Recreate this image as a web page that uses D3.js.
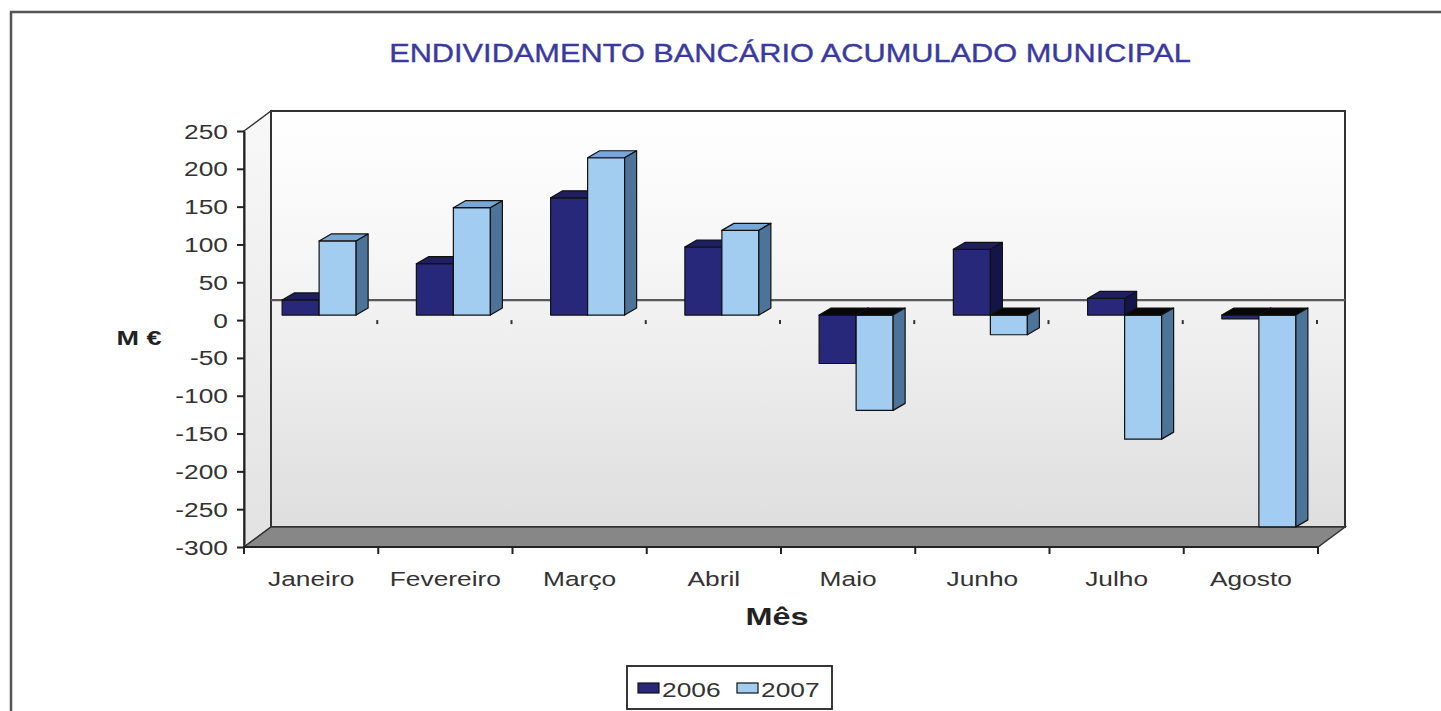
<!DOCTYPE html>
<html><head><meta charset="utf-8">
<script src="https://cdn.jsdelivr.net/npm/d3@7"></script>
<style>
body{margin:0;background:#fff}
svg{display:block;font-family:"Liberation Sans",Arial,Helvetica,sans-serif}
</style>
</head><body>
<script>
// ---------- data ----------
const categories = ["Janeiro","Fevereiro","Março","Abril","Maio","Junho","Julho","Agosto"];
const seriesNames = ["2006","2007"];
const values2006 = [20, 68, 155, 90, -64, 87, 22, -5];
const values2007 = [98, 142, 208, 112, -126, -26, -164, -280];
const yTickValues = [250,200,150,100,50,0,-50,-100,-150,-200,-250,-300];
const titleText = "ENDIVIDAMENTO BANCÁRIO ACUMULADO MUNICIPAL";
const xAxisTitle = "Mês";
const yAxisTitle = "M €";

// ---------- layout ----------
const W = 1441, H = 711;
const X0 = 244, X1 = 1318, YT = 131, YB = 547;   // front plane
const DX = 27, DY = -20;                          // wall depth
const BX = 8, BY = -5;                            // bar plane shift
const SDX = 12, SDY = -7;                         // bar depth
const SX = 1.35;                                  // horizontal text stretch

const colors = {
  "2006": {front:"#28287a", top:"#1f1f60", side:"#141449"},
  "2007": {front:"#a2cdf0", top:"#78a6d5", side:"#4e7398"}
};
const seriesValues = {"2006": values2006, "2007": values2007};

const svg = d3.select("body").append("svg").attr("width", W).attr("height", H);
const defs = svg.append("defs");
const gBack = defs.append("linearGradient").attr("id","gBack").attr("x1",0).attr("y1",0).attr("x2",0).attr("y2",1);
gBack.append("stop").attr("offset","0%").attr("stop-color","#ffffff");
gBack.append("stop").attr("offset","35%").attr("stop-color","#f6f6f6");
gBack.append("stop").attr("offset","100%").attr("stop-color","#dedede");
const gSide = defs.append("linearGradient").attr("id","gSide").attr("x1",0).attr("y1",0).attr("x2",0).attr("y2",1);
gSide.append("stop").attr("offset","0%").attr("stop-color","#f8f8f8");
gSide.append("stop").attr("offset","100%").attr("stop-color","#e2e2e2");

const y = d3.scaleLinear().domain([-300, 250]).range([YB, YT]);
const x0 = d3.scaleBand().domain(categories).range([X0, X1]).paddingInner(0).paddingOuter(0);
const x1 = d3.scaleBand().domain(seriesNames).range([0, x0.bandwidth()]).paddingInner(0).paddingOuter(0.814);

const line = d3.line();
const poly = pts => line(pts) + "Z";

// outer chart border
svg.append("path").attr("d", `M11,${H+20}V12H${W+20}`).attr("fill","none").attr("stroke","#555").attr("stroke-width",2.5);

// title
svg.append("text").text(titleText)
  .attr("transform", `translate(790,62) scale(1.23,1)`)
  .attr("text-anchor","middle").attr("font-size",25).attr("fill","#3a3a9e")
  .attr("stroke","#3a3a9e").attr("stroke-width",0.35);

// left wall
svg.append("path").attr("d", poly([[X0,YT],[X0+DX,YT+DY],[X0+DX,YB+DY],[X0,YB]]))
  .attr("fill","url(#gSide)").attr("stroke","#333").attr("stroke-width",1.5);
// back wall
svg.append("rect").attr("x",X0+DX).attr("y",YT+DY).attr("width",X1-X0).attr("height",YB-YT)
  .attr("fill","url(#gBack)").attr("stroke","#333").attr("stroke-width",2);
// zero line on back wall
svg.append("line").attr("x1",X0+DX).attr("x2",X1+DX).attr("y1",y(0)+DY).attr("y2",y(0)+DY)
  .attr("stroke","#5a5a5a").attr("stroke-width",2.2);
// floor
svg.append("path").attr("d", poly([[X0,YB],[X0+DX,YB+DY],[X1+DX,YB+DY],[X1,YB]]))
  .attr("fill","#878787").attr("stroke","#333").attr("stroke-width",1.5);

// small category ticks at zero level
svg.append("g").selectAll("line").data(categories).join("line")
  .attr("x1", d => x0(d)+x0.bandwidth()-1).attr("x2", d => x0(d)+x0.bandwidth()-1)
  .attr("y1", y(0)).attr("y2", y(0)+4).attr("stroke","#333").attr("stroke-width",2);

// bars
const gb = svg.append("g").attr("stroke","#111").attr("stroke-width",1.2).attr("stroke-linejoin","round");
const yb0 = y(0) + BY;
categories.forEach((c, ci) => {
  seriesNames.forEach(s => {
    const v = seriesValues[s][ci];
    const col = colors[s];
    const xl = x0(c) + BX + x1(s), xr = xl + x1.bandwidth();
    const yv = y(v) + BY;
    const top = v >= 0 ? yv : yb0;
    const bot = v >= 0 ? yb0 : yv;
    gb.append("rect").attr("x",xl).attr("y",top).attr("width",xr-xl).attr("height",bot-top).attr("fill",col.front);
    gb.append("path").attr("d", poly([[xl,top],[xr,top],[xr+SDX,top+SDY],[xl+SDX,top+SDY]]))
      .attr("fill", v >= 0 ? col.top : "#070707");
    gb.append("path").attr("d", poly([[xr,top],[xr+SDX,top+SDY],[xr+SDX,bot+SDY],[xr,bot]]))
      .attr("fill", col.side);
  });
});

// y axis
const yAxis = d3.axisLeft(y).tickValues(yTickValues).tickFormat(d => String(d))
  .tickSize(7).tickSizeOuter(0).tickPadding(0);
const ga = svg.append("g").attr("transform", `translate(${X0},0)`).call(yAxis);
ga.select(".domain").attr("stroke","#222").attr("stroke-width",2);
ga.selectAll(".tick line").attr("stroke","#222").attr("stroke-width",2);
ga.selectAll(".tick text")
  .attr("x", null).attr("dy", null)
  .attr("transform", `translate(-16,7) scale(${SX},1)`)
  .attr("font-size",19.5).attr("fill","#333").attr("font-family","Liberation Sans, Arial, sans-serif");

// x axis bottom ticks
const bounds = d3.range(categories.length + 1).map(i => X0 + i * x0.step());
svg.append("g").selectAll("line").data(bounds).join("line")
  .attr("x1", d => d).attr("x2", d => d).attr("y1", YB).attr("y2", YB+7)
  .attr("stroke","#222").attr("stroke-width",2);
svg.append("line").attr("x1",X0).attr("x2",X1).attr("y1",YB).attr("y2",YB).attr("stroke","#222").attr("stroke-width",2);

// category labels
svg.append("g").selectAll("text").data(categories).join("text")
  .text(d => d)
  .attr("transform", d => `translate(${x0(d)+x0.bandwidth()/2},586) scale(${SX},1)`)
  .attr("text-anchor","middle").attr("font-size",19.5).attr("fill","#333");

// axis titles
svg.append("text").text(xAxisTitle)
  .attr("transform", `translate(777,625) scale(${SX},1)`)
  .attr("text-anchor","middle").attr("font-size",24).attr("font-weight","bold").attr("fill","#222");
svg.append("text").text(yAxisTitle)
  .attr("transform", `translate(139,345) scale(${SX},1)`)
  .attr("text-anchor","middle").attr("font-size",20).attr("font-weight","bold").attr("fill","#222");

// legend
const lg = svg.append("g");
lg.append("rect").attr("x",627).attr("y",666).attr("width",205).attr("height",43)
  .attr("fill","#fff").attr("stroke","#222").attr("stroke-width",1.8);
const legX = {"2006": 638, "2007": 737};
seriesNames.forEach(s => {
  lg.append("rect").attr("x",legX[s]).attr("y",683).attr("width",21).attr("height",10)
    .attr("fill",colors[s].front).attr("stroke","#111").attr("stroke-width",1.2);
  lg.append("text").text(s)
    .attr("transform", `translate(${legX[s]+24},697) scale(${SX},1)`)
    .attr("font-size",19.5).attr("fill","#333");
});
</script>
</body></html>
